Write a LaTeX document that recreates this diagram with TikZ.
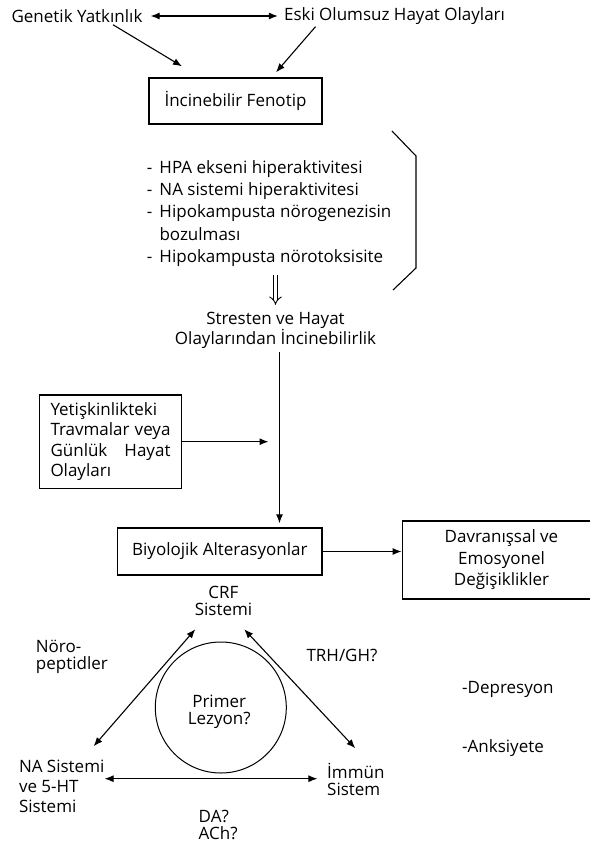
\documentclass[tikz,border=0pt]{standalone}
\usepackage{fontspec}
\setmainfont{Open Sans}
\usetikzlibrary{arrows.meta,shapes.geometric,calc}
\newcommand\fsz[1]{\fontsize{17}{#1}\selectfont}
\newcommand\itm{\makebox[12.6pt][l]{-}}
\begin{document}
\begin{tikzpicture}[x=1pt,y=-1pt,
  txt/.style={inner sep=0pt, font=\fsz{20}},
  box/.style={draw, line width=1.4pt, inner sep=0pt},
  arr/.style={line width=1.1pt, -{Latex[length=9pt,width=7pt]}},
  darr/.style={line width=1.1pt, {Latex[length=9pt,width=7pt]}-{Latex[length=9pt,width=7pt]}},
  dblarr/.style={double, double distance=3.5pt, line width=0.9pt, -{Implies}},
]
\useasboundingbox (0,0) rectangle (589,845);

% top
\node[txt] (gen) at (77,16) {Genetik Yatkınlık};
\node[txt] (eski) at (394.5,16) {Eski Olumsuz Hayat Olayları};
\node[box, minimum width=173pt, minimum height=46pt, font=\fsz{20}] (fen) at (235.5,101) {İncinebilir Fenotip};
\draw[darr, shorten <=8pt, shorten >=6pt] (gen.east) -- (eski.west);
\draw[arr] ([xshift=36pt,yshift=-2pt]gen.south) -- ([xshift=-53.5pt,yshift=11pt]fen.north);
\draw[arr] ([xshift=-79pt,yshift=-2pt]eski.south) -- ([xshift=40.5pt,yshift=5pt]fen.north);

% list and bracket
\node[txt, font=\fsz{22.25}, align=left, anchor=west] (lst) at (146.7,213.5)
  {\itm HPA ekseni hiperaktivitesi\\ \itm NA sistemi hiperaktivitesi\\ \itm Hipokampusta nörogenezisin\\ \hspace*{12.6pt}bozulması\\ \itm Hipokampusta nörotoksisite};
\draw[line width=1.1pt] (392,131) -- (416,156) -- (416,268) -- (393,290);

\node[txt, font=\fsz{19}, align=center] (str) at (275.5,330.5) {Stresten ve Hayat\\Olaylarından İncinebilirlik};
\draw[dblarr] ([yshift=37pt]str.north) -- ([yshift=7pt]str.north);

% middle
\node[box, font=\fsz{20.3}, align=left, text width=120pt, inner xsep=10.85pt, minimum height=93.3pt] (yet) at (110.5,441.7)
  {Yetişkinlikteki\\\makebox[120pt][l]{Travmalar\hfill veya}\\\makebox[120pt][l]{Günlük\hfill Hayat}\\Olayları};
\node[box, font=\fsz{20}, minimum width=204.3pt, minimum height=47pt] (bio) at (219.85,551.5) {Biyolojik Alterasyonlar};
\node[box, font=\fsz{21.5}, align=center, minimum width=198.4pt, minimum height=78pt] (dav) at (501.5,560) {Davranışsal ve\\Emosyonel\\Değişiklikler};

\coordinate (vtop) at ([xshift=4pt,yshift=-3pt]str.south);
\draw[arr, shorten >=4pt] (vtop) -- (vtop |- bio.north);
\draw[arr, shorten >=11pt] (yet.east) -- (yet.east -| vtop);
\draw[arr] (bio.east) -- (bio.east -| dav.west);

% triangle
\node[txt, font=\fsz{17}, align=center] (crf) at (223.5,601) {CRF\\Sistemi};
\node[txt, font=\fsz{20}, align=left, anchor=west] (na) at (18.8,786.7) {NA Sistemi\\ve 5-HT\\Sistemi};
\node[txt, font=\fsz{17}, align=left, anchor=west] (imm) at (327,779) {İmmün\\Sistem};
\node[draw, circle, line width=1pt, minimum size=131pt, inner sep=0pt] (les) at (220.8,707.5) {};
\node[txt, font=\fsz{17}, align=center] (prim) at (219.2,711.5) {Primer\\Lezyon?};
\node[txt, font=\fsz{17}, align=left, anchor=west] (noro) at (35.7,656.7) {Nöro-\\peptidler};
\node[txt] (trh) at (342,655.7) {TRH/GH?};
\node[txt, anchor=west] (dep) at (462,689) {-Depresyon};
\node[txt, anchor=west] (ank) at (462,748.3) {-Anksiyete};
\node[txt, font=\fsz{17}, align=left, anchor=west] (da) at (198.5,825) {DA?\\ACh?};

\draw[darr] ([xshift=-28.2pt,yshift=-13.3pt]crf.south) -- ([xshift=31.9pt,yshift=13.9pt]na.north);
\draw[darr] ([xshift=20.7pt,yshift=-13.3pt]crf.south) -- ([xshift=-0.5pt,yshift=14.3pt]imm.north);
\draw[darr, shorten >=9.6pt] ([yshift=8pt]na.east) -- ([yshift=8pt]na.east -| imm.west);
\end{tikzpicture}
\end{document}
